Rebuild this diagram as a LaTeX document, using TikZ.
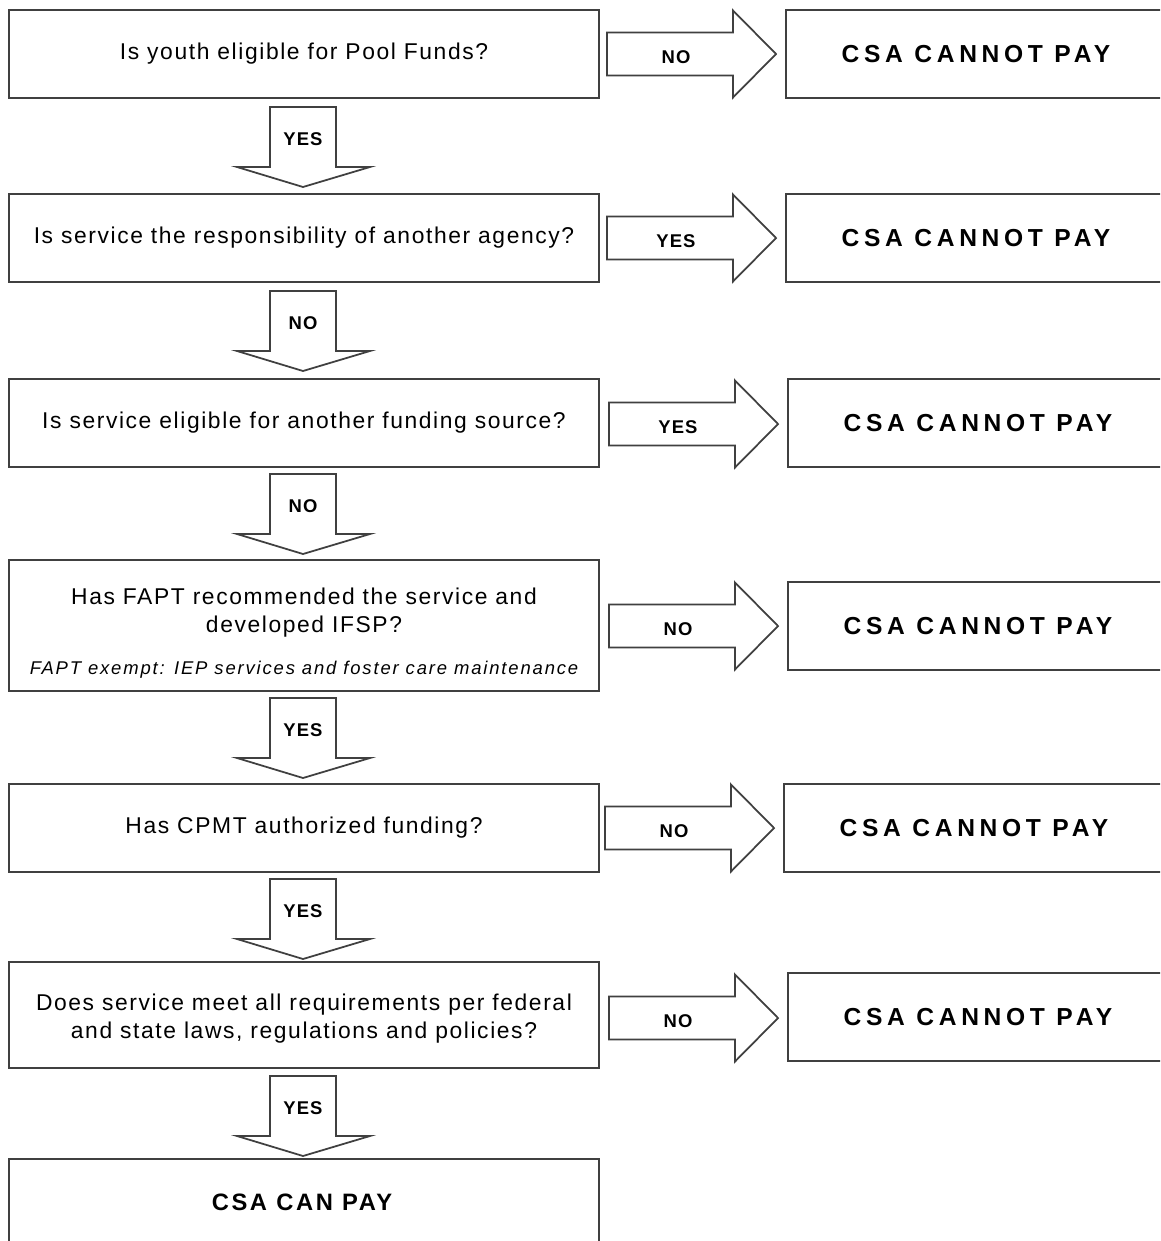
\documentclass[tikz,border=0pt]{standalone}
\usepackage{fontspec}
\setmainfont{Liberation Sans}

\tikzset{
  qbox/.style={draw=black!75, line width=1.1pt, minimum width=11.8cm, align=center,
    font=\fontsize{13}{16}\selectfont\addfontfeatures{LetterSpace=7}},
  paybox/.style={draw=black!75, line width=1.1pt, minimum width=7.6cm, minimum height=1.76cm,
    font=\bfseries\fontsize{14}{15}\selectfont\addfontfeatures{LetterSpace=19}},
  blk/.style={draw=black!75, line width=1pt, fill=white, line join=miter},
  lbl/.style={font=\bfseries\fontsize{10.5}{12}\selectfont\addfontfeatures{LetterSpace=6}},
}

\begin{document}
\begin{tikzpicture}[x=0.02cm, y=-0.02cm]
  \clip (0,0) rectangle (1160,1241);
  \fill[white] (0,0) rectangle (1160,1241);

  % question boxes
  \node[qbox, minimum height=1.76cm] (q1) at (304,54) {Is youth eligible for Pool Funds?};
  \node[qbox, minimum height=1.76cm] (q2) at (304,238) {Is service the responsibility of another agency?};
  \node[qbox, minimum height=1.76cm] (q3) at (304,423) {Is service eligible for another funding source?};
  \node[qbox, minimum height=2.62cm] (q4) at (304,625.5) {\rule{0pt}{18pt}Has FAPT recommended the service and\\developed IFSP?\\[8pt]
    {\itshape\fontsize{10.5}{12}\selectfont\addfontfeatures{LetterSpace=10}FAPT exempt: IEP services and foster care maintenance}};
  \node[qbox, minimum height=1.76cm] (q5) at (304,828) {Has CPMT authorized funding?};
  \node[qbox, minimum height=2.12cm] (q6) at (304,1015) {\rule{0pt}{14pt}Does service meet all requirements per federal\\and state laws, regulations and policies?};
  \draw[draw=black!75, line width=1.1pt] (9,1159) rectangle (599,1300);
  \node[font=\bfseries\fontsize{13.5}{15}\selectfont\addfontfeatures{LetterSpace=11}] (q7) at (302,1202) {CSA CAN PAY};

  % answer boxes
  \node[paybox] (r1) at (976,54) {CSA CANNOT PAY};
  \node[paybox] (r2) at (976,238) {CSA CANNOT PAY};
  \node[paybox] (r3) at (978,423) {CSA CANNOT PAY};
  \node[paybox] (r4) at (978,626) {CSA CANNOT PAY};
  \node[paybox] (r5) at (974,828) {CSA CANNOT PAY};
  \node[paybox] (r6) at (978,1017) {CSA CANNOT PAY};

  % block arrows to the right
  \foreach \n/\x/\y/\t in {1/607/54/NO, 2/607/238/YES, 3/609/424/YES, 4/609/626/NO, 5/605/828/NO, 6/609/1018/NO} {
    \draw[blk] (\x,\y-21.5) -- ++(126,0) -- ++(0,-22) -- (\x+169,\y) -- (\x+126,\y+43.5)
      -- ++(0,-22) -- (\x,\y+21.5) -- cycle;
    \node[lbl] (ra\n) at (\x+69,\y+3) {\t};
  }

  % block arrows down
  \foreach \n/\y/\t in {1/107/YES, 2/291/NO, 3/474/NO, 4/698/YES, 5/879/YES, 6/1076/YES} {
    \draw[blk] (270,\y) -- (336,\y) -- (336,\y+60) -- (370,\y+60) -- (303,\y+80)
      -- (237,\y+60) -- (270,\y+60) -- cycle;
    \node[lbl] (da\n) at (303,\y+32) {\t};
  }
\end{tikzpicture}
\end{document}
